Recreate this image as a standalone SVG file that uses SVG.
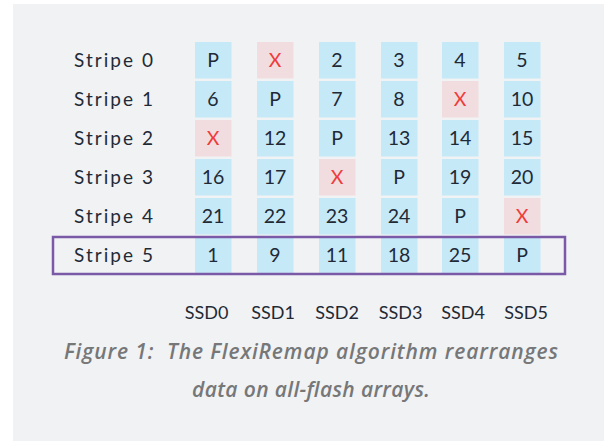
<svg xmlns="http://www.w3.org/2000/svg" width="604" height="441" viewBox="0 0 604 441">
<style>
.bg{fill:#f1f2f4}
.d{fill:#c6e9f8}
.x{fill:#f1dddf}
.t{font-family:Lato,"Noto Sans",sans-serif;font-size:19.5px;fill:#1f2a36;text-anchor:middle}
.lbl{font-family:Lato,"Noto Sans",sans-serif;font-size:19px;fill:#1f2a36}
.xt{fill:#ef3b3b}
.ssd{font-family:Lato,"Noto Sans",sans-serif;font-size:18px;fill:#1f2a36;text-anchor:middle}
.cap{font-family:"Open Sans","Noto Sans",sans-serif;font-size:21px;font-weight:600;font-style:italic;fill:#767778}
</style>
<rect class="bg" x="13" y="4" width="591" height="437"/>
<g id="labels">
<text class="lbl" x="74" y="67" textLength="79" lengthAdjust="spacing">Stripe 0</text>
<text class="lbl" x="74" y="106" textLength="79" lengthAdjust="spacing">Stripe 1</text>
<text class="lbl" x="74" y="145" textLength="79" lengthAdjust="spacing">Stripe 2</text>
<text class="lbl" x="74" y="184" textLength="79" lengthAdjust="spacing">Stripe 3</text>
<text class="lbl" x="74" y="223" textLength="79" lengthAdjust="spacing">Stripe 4</text>
<text class="lbl" x="74" y="262" textLength="79" lengthAdjust="spacing">Stripe 5</text>
</g>
<g id="row0">
<rect class="d" x="195" y="42" width="36.5" height="36.5"/><text class="t" x="213" y="67">P</text>
<rect class="x" x="257" y="42" width="36.5" height="36.5"/><text class="t xt" x="275" y="67">X</text>
<rect class="d" x="319" y="42" width="36.5" height="36.5"/><text class="t" x="337" y="67">2</text>
<rect class="d" x="381" y="42" width="36.5" height="36.5"/><text class="t" x="399" y="67">3</text>
<rect class="d" x="442" y="42" width="36.5" height="36.5"/><text class="t" x="460" y="67">4</text>
<rect class="d" x="504" y="42" width="36.5" height="36.5"/><text class="t" x="522" y="67">5</text>
</g>
<g id="row1">
<rect class="d" x="195" y="81" width="36.5" height="36.5"/><text class="t" x="213" y="106">6</text>
<rect class="d" x="257" y="81" width="36.5" height="36.5"/><text class="t" x="275" y="106">P</text>
<rect class="d" x="319" y="81" width="36.5" height="36.5"/><text class="t" x="337" y="106">7</text>
<rect class="d" x="381" y="81" width="36.5" height="36.5"/><text class="t" x="399" y="106">8</text>
<rect class="x" x="442" y="81" width="36.5" height="36.5"/><text class="t xt" x="460" y="106">X</text>
<rect class="d" x="504" y="81" width="36.5" height="36.5"/><text class="t" x="522" y="106">10</text>
</g>
<g id="row2">
<rect class="x" x="195" y="120" width="36.5" height="36.5"/><text class="t xt" x="213" y="145">X</text>
<rect class="d" x="257" y="120" width="36.5" height="36.5"/><text class="t" x="275" y="145">12</text>
<rect class="d" x="319" y="120" width="36.5" height="36.5"/><text class="t" x="337" y="145">P</text>
<rect class="d" x="381" y="120" width="36.5" height="36.5"/><text class="t" x="399" y="145">13</text>
<rect class="d" x="442" y="120" width="36.5" height="36.5"/><text class="t" x="460" y="145">14</text>
<rect class="d" x="504" y="120" width="36.5" height="36.5"/><text class="t" x="522" y="145">15</text>
</g>
<g id="row3">
<rect class="d" x="195" y="159" width="36.5" height="36.5"/><text class="t" x="213" y="184">16</text>
<rect class="d" x="257" y="159" width="36.5" height="36.5"/><text class="t" x="275" y="184">17</text>
<rect class="x" x="319" y="159" width="36.5" height="36.5"/><text class="t xt" x="337" y="184">X</text>
<rect class="d" x="381" y="159" width="36.5" height="36.5"/><text class="t" x="399" y="184">P</text>
<rect class="d" x="442" y="159" width="36.5" height="36.5"/><text class="t" x="460" y="184">19</text>
<rect class="d" x="504" y="159" width="36.5" height="36.5"/><text class="t" x="522" y="184">20</text>
</g>
<g id="row4">
<rect class="d" x="195" y="198" width="36.5" height="36.5"/><text class="t" x="213" y="223">21</text>
<rect class="d" x="257" y="198" width="36.5" height="36.5"/><text class="t" x="275" y="223">22</text>
<rect class="d" x="319" y="198" width="36.5" height="36.5"/><text class="t" x="337" y="223">23</text>
<rect class="d" x="381" y="198" width="36.5" height="36.5"/><text class="t" x="399" y="223">24</text>
<rect class="d" x="442" y="198" width="36.5" height="36.5"/><text class="t" x="460" y="223">P</text>
<rect class="x" x="504" y="198" width="36.5" height="36.5"/><text class="t xt" x="522" y="223">X</text>
</g>
<g id="row5">
<rect class="d" x="195" y="237" width="36.5" height="36.5"/><text class="t" x="213" y="262">1</text>
<rect class="d" x="257" y="237" width="36.5" height="36.5"/><text class="t" x="275" y="262">9</text>
<rect class="d" x="319" y="237" width="36.5" height="36.5"/><text class="t" x="337" y="262">11</text>
<rect class="d" x="381" y="237" width="36.5" height="36.5"/><text class="t" x="399" y="262">18</text>
<rect class="d" x="442" y="237" width="36.5" height="36.5"/><text class="t" x="460" y="262">25</text>
<rect class="d" x="504" y="237" width="36.5" height="36.5"/><text class="t" x="522" y="262">P</text>
</g>
<g id="highlight">
<rect x="53" y="237" width="512" height="37" fill="none" stroke="#7a5aa7" stroke-width="2.5"/>
</g>
<g id="ssd">
<text class="ssd" x="206.5" y="319">SSD0</text>
<text class="ssd" x="273" y="319">SSD1</text>
<text class="ssd" x="337" y="319">SSD2</text>
<text class="ssd" x="400.5" y="319">SSD3</text>
<text class="ssd" x="463" y="319">SSD4</text>
<text class="ssd" x="526" y="319">SSD5</text>
</g>
<g id="caption">
<text class="cap" x="64" y="359" xml:space="preserve" textLength="494" lengthAdjust="spacing">Figure 1:  The FlexiRemap algorithm rearranges</text>
<text class="cap" x="192" y="397" textLength="238" lengthAdjust="spacing">data on all-flash arrays.</text>
</g>
</svg>
